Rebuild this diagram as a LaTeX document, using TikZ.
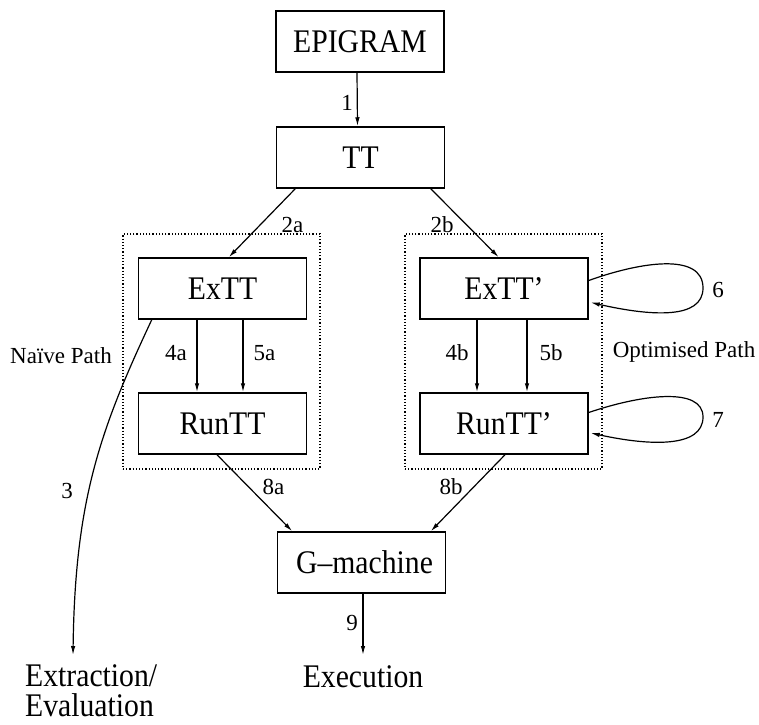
\documentclass[tikz,border=0pt]{standalone}
\usepackage{fontspec}
\setmainfont{Liberation Serif}
\newfontfamily\narrowserif{Liberation Serif}[FakeStretch=0.9,Ligatures=TeX]
\newcommand\outfont{\narrowserif\fontsize{33}{30}\selectfont\lineskiplimit=-20pt\relax}
\usetikzlibrary{arrows.meta,calc}
\begin{document}
\begin{tikzpicture}[x=1pt,y=-1pt,
  box/.style={draw, line width=1.5pt, minimum width=168pt, minimum height=61pt, inner sep=0pt, font=\narrowserif\fontsize{33}{38}\selectfont},
  dotbox/.style={draw, line width=1.2pt, dash pattern=on 1.2pt off 2pt, inner sep=0pt, minimum width=197pt, minimum height=235pt},
  lbl/.style={font=\fontsize{23}{27}\selectfont, inner sep=0pt},
  big/.style={font=\outfont, inner sep=0pt},
  arr/.style={line width=1.2pt, -{Latex[length=9pt,width=4.5pt]}}
]
\useasboundingbox (0,0) rectangle (759,724);

% dotted groups
\node[dotbox] (naive) at (221.5,351.5) {};
\node[dotbox] (opt) at (503.5,351.5) {};

% boxes
\node[box] (epi) at (360,41.5) {EPIGRAM};
\node[box] (tt) at (360.5,157.5) {TT};
\node[box] (ex) at (222.5,288.5) {ExTT};
\node[box] (run) at (222.5,423.5) {RunTT};
\node[box] (exo) at (504,288.5) {ExTT’};
\node[box] (runo) at (504,423.5) {RunTT’};
\node[box] (gm) at (361.5,562.5) {\hspace*{6pt}G–machine};

% free ends
\coordinate (extend) at (73,655);
\coordinate (exectop) at (363,655);

% outputs
\node[big, align=left, anchor=base west] (extr) at (25,716) {Extraction/\\Evaluation};
\node[big, anchor=base] (exe) at (363,687) {Execution};

% side texts
\node[lbl] (naivetxt) at (61,356) {Naïve Path};
\node[lbl] (opttxt) at (684,352) {Optimised Path};

% connectors
\draw[arr] ($(epi.south)+(-3,0)$) -- ($(tt.north)+(-3,0)$);
\draw[arr] ($(tt.south west)+(19.5,0)$) -- ($(ex.north west)+(91,0)$);
\draw[arr] ($(tt.south east)+(-14.5,0)$) -- ($(exo.north west)+(79.5,0)$);
\draw[arr] ($(ex.south)+(-25.5,0)$) -- ($(run.north)+(-25.5,0)$);
\draw[arr] ($(ex.south)+(20.5,0)$) -- ($(run.north)+(20.5,0)$);
\draw[arr] ($(exo.south)+(-27,0)$) -- ($(runo.north)+(-27,0)$);
\draw[arr] ($(exo.south)+(23,0)$) -- ($(runo.north)+(23,0)$);
\draw[arr] ($(run.south)+(-5.5,0)$) -- ($(gm.north west)+(15.5,0)$);
\draw[arr] ($(runo.south)+(1,0)$) -- ($(gm.north east)+(-15.5,0)$);
\draw[arr] ($(gm.south)+(1.5,0)$) -- (exectop);
\draw[arr] ($(ex.south west)+(14,0)$) .. controls (100,430) and (75,500) .. (extend);
\draw[arr] ($(exo.east)+(0,-8)$) .. controls (640,262) and (703,252) .. (703,288) .. controls (703,320) and (650,316) .. ($(exo.east)+(2,14)$);
\draw[arr] ($(runo.east)+(0,-11)$) .. controls (640,395) and (703,386) .. (703,417) .. controls (703,448) and (650,446) .. ($(runo.east)+(2,9.5)$);

% labels
\node[lbl] (l1) at (347,103) {1};
\node[lbl] (l2a) at (292.5,225) {2a};
\node[lbl] (l2b) at (442,225) {2b};
\node[lbl] (l3) at (67,491) {3};
\node[lbl] (l4a) at (176,353) {4a};
\node[lbl] (l5a) at (264.5,353) {5a};
\node[lbl] (l4b) at (457,353) {4b};
\node[lbl] (l5b) at (551,353) {5b};
\node[lbl] (l6) at (718,290) {6};
\node[lbl] (l7) at (718,420) {7};
\node[lbl] (l8a) at (273.5,487) {8a};
\node[lbl] (l8b) at (451,487) {8b};
\node[lbl] (l9) at (352,623) {9};
\end{tikzpicture}
\end{document}
